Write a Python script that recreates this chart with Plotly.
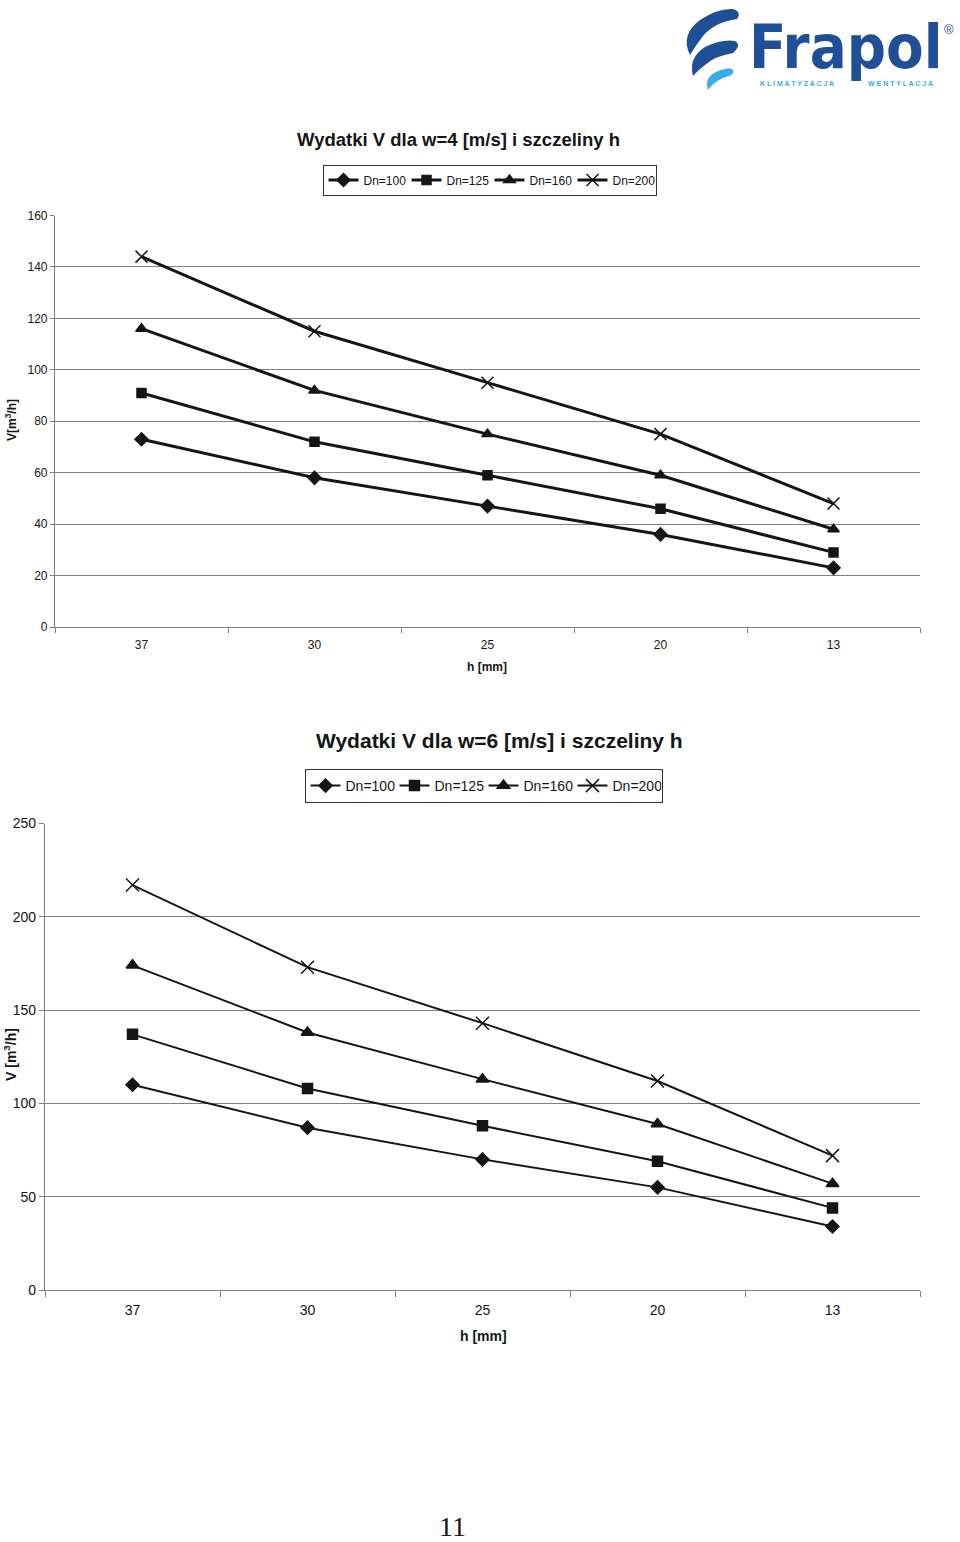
import plotly.graph_objects as go

W, H = 960, 1542

# ---------------- data ----------------
h_labels = ["37", "30", "25", "20", "13"]
series_names = ["Dn=100", "Dn=125", "Dn=160", "Dn=200"]

# w = 4 m/s
w4_dn100 = [73, 58, 47, 36, 23]
w4_dn125 = [91, 72, 59, 46, 29]
w4_dn160 = [116, 92, 75, 59, 38]
w4_dn200 = [144, 115, 95, 75, 48]

# w = 6 m/s
w6_dn100 = [110, 87, 70, 55, 34]
w6_dn125 = [137, 108, 88, 69, 44]
w6_dn160 = [174, 138, 113, 89, 57]
w6_dn200 = [217, 173, 143, 112, 72]

y1_ticks = [0, 20, 40, 60, 80, 100, 120, 140, 160]
y2_ticks = [0, 50, 100, 150, 200, 250]

FONT = "Liberation Sans, Arial, Helvetica, sans-serif"
INK = "#151515"
GRID = "#808080"

symbols = ["diamond", "square", "triangle-up", "x-thin"]


def px(x):
    return x / W


def py(y):
    return 1 - y / H


fig = go.Figure()

sizes1 = [10, 9, 10, 12]
for name, vals, sym, sz in zip(series_names, [w4_dn100, w4_dn125, w4_dn160, w4_dn200], symbols, sizes1):
    fig.add_trace(go.Scatter(
        x=h_labels, y=vals, name=name, mode="lines+markers",
        xaxis="x", yaxis="y", legend="legend",
        line=dict(color=INK, width=3),
        marker=dict(symbol=sym, size=sz, color=INK, line=dict(color=INK, width=1.5)),
    ))

sizes2 = [10, 10, 11, 13]
for name, vals, sym, sz in zip(series_names, [w6_dn100, w6_dn125, w6_dn160, w6_dn200], symbols, sizes2):
    fig.add_trace(go.Scatter(
        x=h_labels, y=vals, name=name, mode="lines+markers",
        xaxis="x2", yaxis="y2", legend="legend2",
        line=dict(color=INK, width=2),
        marker=dict(symbol=sym, size=sz, color=INK, line=dict(color=INK, width=1.5)),
    ))

axis_common = dict(showline=True, linecolor=GRID, linewidth=1.2, ticks="outside",
                   tickcolor=GRID, automargin=False, zeroline=False)

fig.update_layout(
    width=W, height=H, autosize=False,
    margin=dict(l=0, r=0, t=0, b=0),
    paper_bgcolor="white", plot_bgcolor="white",
    font=dict(family=FONT, color=INK),
    xaxis=dict(domain=[px(55), px(920)], anchor="y", type="category",
               categoryorder="array", categoryarray=h_labels,
               range=[-0.5, 4.5], tickson="boundaries", ticklen=5, ticklabelstandoff=6,
               showgrid=False, tickfont=dict(size=12, color=INK), **axis_common),
    yaxis=dict(domain=[py(627), py(215.5)], anchor="x", range=[0, 160],
               tickvals=y1_ticks, ticklen=4, showgrid=True, gridcolor=GRID, gridwidth=1,
               tickfont=dict(size=12, color=INK), **axis_common),
    xaxis2=dict(domain=[px(45), px(920)], anchor="y2", type="category",
                categoryorder="array", categoryarray=h_labels,
                range=[-0.5, 4.5], tickson="boundaries", ticklen=6, ticklabelstandoff=7,
                showgrid=False, tickfont=dict(size=14, color=INK), **axis_common),
    yaxis2=dict(domain=[py(1290), py(823.5)], anchor="x2", range=[0, 250],
                tickvals=y2_ticks, ticklen=5, showgrid=True, gridcolor=GRID, gridwidth=1,
                tickfont=dict(size=14, color=INK), **axis_common),
    legend=dict(orientation="h", x=px(489.5), xanchor="center", y=py(164.5), yanchor="top",
                bordercolor="#333333", borderwidth=1, bgcolor="white",
                font=dict(size=12, color=INK), itemwidth=30, tracegroupgap=0,
                entrywidth=38, entrywidthmode="pixels"),
    legend2=dict(orientation="h", x=px(483.5), xanchor="center", y=py(769), yanchor="top",
                 bordercolor="#333333", borderwidth=1, bgcolor="white",
                 font=dict(size=14, color=INK), itemwidth=30, tracegroupgap=0,
                 entrywidth=44, entrywidthmode="pixels"),
    showlegend=True,
)

DARK = "#1f4f97"
LIGHT = "#35aee6"

ann = []
# chart titles
ann.append(dict(text="<b>Wydatki V dla w=4 [m/s] i szczeliny h</b>", x=px(458), y=py(139),
                font=dict(size=18.5, color=INK)))
ann.append(dict(text="<b>Wydatki V dla w=6 [m/s] i szczeliny h</b>", x=px(499), y=py(740),
                font=dict(size=21, color=INK)))
# axis titles
ann.append(dict(text="<b>h [mm]</b>", x=px(487), y=py(667), font=dict(size=12, color=INK)))
ann.append(dict(text="<b>h [mm]</b>", x=px(483), y=py(1336), font=dict(size=14, color=INK)))
ann.append(dict(text="<b>V[m<sup>3</sup>/h]</b>", x=px(11), y=py(420), textangle=-90,
                font=dict(size=12, color=INK)))
ann.append(dict(text="<b>V [m<sup>3</sup>/h]</b>", x=px(10), y=py(1055), textangle=-90,
                font=dict(size=14, color=INK)))
# page number
ann.append(dict(text="11", x=px(452), y=py(1526),
                font=dict(size=28, color=INK, family="Liberation Serif, Times New Roman, DejaVu Serif, serif")))
# logo text
ann.append(dict(text="<b>Frapol</b>", x=px(845), y=py(46),
                font=dict(size=61, color=DARK,
                          family="Liberation Sans Narrow, DejaVu Sans Condensed, Roboto, sans-serif")))
ann.append(dict(text="<b>K L I M A T Y Z A C J A</b>", x=px(797), y=py(83),
                font=dict(size=7, color=LIGHT)))
ann.append(dict(text="<b>W E N T Y L A C J A</b>", x=px(900), y=py(83),
                font=dict(size=7, color=LIGHT)))
ann.append(dict(text="®", x=px(949), y=py(29), font=dict(size=13, color=DARK)))

for a in ann:
    a.update(xref="paper", yref="paper", showarrow=False, xanchor="center", yanchor="middle")
    fig.add_annotation(**a)


def path(points):
    # points in page pixels -> paper-space SVG path
    out = []
    for cmd, *coords in points:
        pairs = []
        for i in range(0, len(coords), 2):
            pairs.append(f"{px(coords[i]):.5f},{py(coords[i + 1]):.5f}")
        out.append(cmd + " " + " ".join(pairs))
    return " ".join(out) + " Z"


swoosh1 = path([("M", 690, 55), ("Q", 680, 35, 700, 20), ("Q", 718, 8, 733, 9),
                ("Q", 742, 12, 737, 19), ("Q", 715, 22, 703, 36), ("Q", 696, 45, 690, 55)])
swoosh2 = path([("M", 693, 76), ("Q", 688, 58, 705, 47), ("Q", 722, 39, 735, 41),
                ("Q", 742, 45, 733, 53), ("Q", 715, 56, 705, 65), ("Q", 698, 70, 693, 76)])
swoosh3 = path([("M", 708, 90), ("Q", 704, 78, 716, 72), ("Q", 726, 67, 732, 69),
                ("Q", 736, 73, 729, 76), ("Q", 716, 79, 708, 90)])

for p, c in [(swoosh1, DARK), (swoosh2, DARK), (swoosh3, LIGHT)]:
    fig.add_shape(type="path", path=p, xref="paper", yref="paper",
                  fillcolor=c, line=dict(width=0), layer="above")

fig.write_html("out.html", config={"displayModeBar": False},
               post_script="document.body.style.margin='0';document.body.style.overflow='hidden';")
